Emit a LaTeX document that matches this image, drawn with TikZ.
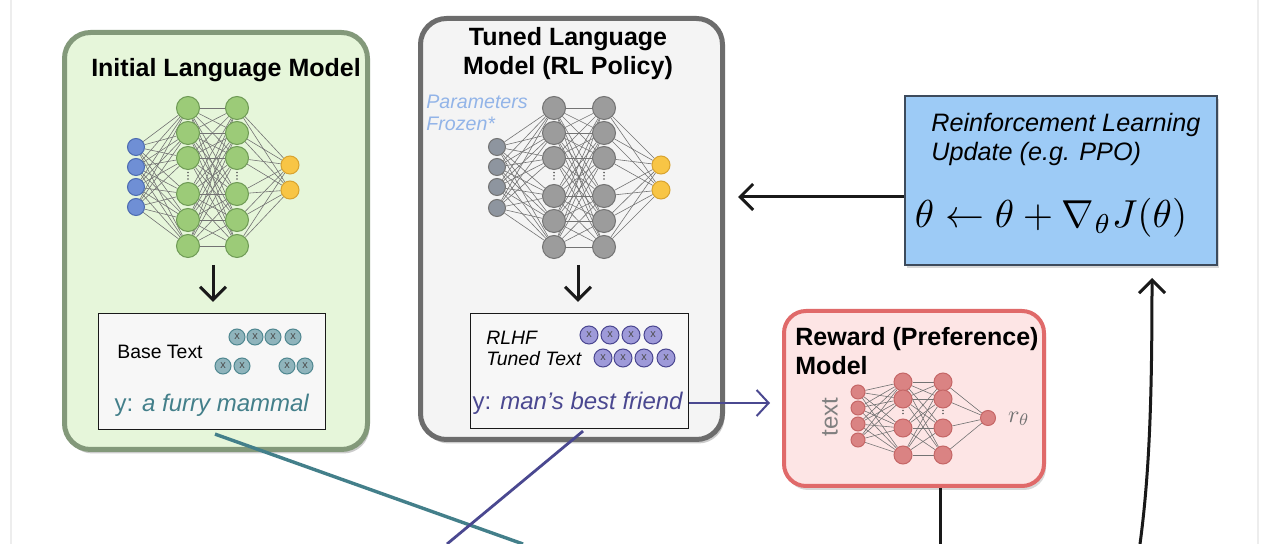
\documentclass[tikz,border=0pt]{standalone}
\usepackage[no-math]{fontspec}
\setmainfont{Liberation Sans}
\usepackage{xcolor}
\usetikzlibrary{arrows.meta,positioning,shadows}

\definecolor{initfill}{HTML}{E6F6DA}
\definecolor{initline}{HTML}{83997A}
\definecolor{tunedfill}{HTML}{F4F4F4}
\definecolor{tunedline}{HTML}{6C6C6C}
\definecolor{rewfill}{HTML}{FDE5E5}
\definecolor{rewline}{HTML}{E06A6A}
\definecolor{updfill}{HTML}{9DCBF6}
\definecolor{updline}{HTML}{3D4B5C}
\definecolor{nodegreen}{HTML}{9CCB78}
\definecolor{nodegreenline}{HTML}{6E9A55}
\definecolor{nodeblue}{HTML}{6F8FD5}
\definecolor{nodeblueline}{HTML}{4C6BB0}
\definecolor{nodeyellow}{HTML}{F8C545}
\definecolor{nodeyellowline}{HTML}{D8A330}
\definecolor{nodegray}{HTML}{9C9C9C}
\definecolor{nodegrayline}{HTML}{737373}
\definecolor{nodegrayin}{HTML}{8E959F}
\definecolor{nodered}{HTML}{DA8383}
\definecolor{noderedline}{HTML}{C56666}
\definecolor{tealtxt}{HTML}{437F8A}
\definecolor{tealtok}{HTML}{8FB4BC}
\definecolor{tealtokline}{HTML}{4F8790}
\definecolor{purptxt}{HTML}{4A4890}
\definecolor{purptok}{HTML}{9E9AD9}
\definecolor{purptokline}{HTML}{4A4690}
\definecolor{frozen}{HTML}{92B4E8}

\pgfdeclarelayer{boxes}
\pgfdeclarelayer{wires}
\pgfsetlayers{boxes,wires,main}

\begin{document}
\begin{tikzpicture}[
    x=0.5pt, y=-0.5pt,
    lmbox/.style={rectangle, rounded corners=13pt, line width=2.5pt, drop shadow={shadow xshift=1pt, shadow yshift=-2pt, opacity=0.4}},
    initbox/.style={lmbox, draw=initline, fill=initfill, minimum width=151.5pt, minimum height=208.5pt},
    tunedbox/.style={lmbox, draw=tunedline, fill=tunedfill, minimum width=151pt, minimum height=210.5pt},
    rewardbox/.style={rectangle, rounded corners=11pt, line width=2pt, draw=rewline, fill=rewfill, minimum width=130pt, minimum height=87.5pt, drop shadow={shadow xshift=1pt, shadow yshift=-2pt, opacity=0.3}},
    updatebox/.style={rectangle, line width=1pt, draw=updline, fill=updfill, minimum width=156pt, minimum height=84.5pt, drop shadow={shadow xshift=1pt, shadow yshift=-1.5pt, opacity=0.3}},
    textbox/.style={rectangle, line width=0.6pt, draw=black!90, fill=black!3},
    title/.style={font=\fontsize{12.5}{14.5}\selectfont\bfseries, align=center, inner sep=0pt},
    neuron/.style={circle, inner sep=0pt, line width=0.5pt},
    hidgreen/.style={neuron, fill=nodegreen, draw=nodegreenline, minimum size=11.5pt},
    inblue/.style={neuron, fill=nodeblue, draw=nodeblueline, minimum size=8.5pt},
    outyellow/.style={neuron, fill=nodeyellow, draw=nodeyellowline, minimum size=9pt},
    hidgray/.style={neuron, fill=nodegray, draw=nodegrayline, minimum size=11.5pt},
    ingray/.style={neuron, fill=nodegrayin, draw=nodegrayline, minimum size=8.5pt},
    hidred/.style={neuron, fill=nodered, draw=noderedline, minimum size=9pt},
    inred/.style={neuron, fill=nodered, draw=noderedline, minimum size=7pt},
    wire/.style={draw=black!55, line width=0.3pt},
    skipdots/.style={draw=black!65, line width=0.9pt, line cap=round, dash pattern=on 0pt off 1.6pt, shorten <=1.3pt, shorten >=1.3pt},
    token/.style={circle, inner sep=0pt, line width=0.5pt, font=\fontsize{5.5}{5.5}\selectfont, text=black!70},
    tealtoken/.style={token, fill=tealtok, draw=tealtokline, minimum size=8pt},
    purptoken/.style={token, fill=purptok, draw=purptokline, minimum size=9pt},
    arrow/.style={-{Straight Barb[length=6.5pt, width=13pt]}, line width=1.5pt, black!90}
]
\useasboundingbox (0,0) rectangle (1280,544);

% Boxes
\begin{pgfonlayer}{boxes}
\fill[white] (0,0) rectangle (1280,544);
\draw[black!7, line width=0.8pt] (11,0) -- (11,544);
\draw[black!7, line width=0.8pt] (1258,0) -- (1258,544);
\node[initbox] (init) at (216,241) {};
\node[tunedbox] (tuned) at (571.5,229) {};
\node[rewardbox] (reward) at (914,398.5) {};
\node[updatebox] (upd) at (1061,180.5) {};
\node[textbox, minimum width=113.5pt, minimum height=58pt] (tb1) at (212,371.5) {};
\node[textbox, minimum width=109pt, minimum height=57.5pt] (tb2) at (579.5,371) {};
\end{pgfonlayer}

% Titles
\node[title] (inittitle) at (226,70) {Initial Language Model};
\node[title] (tunedtitle) at (568,54) {Tuned Language\\Model (RL Policy)};
\node[title, align=left, anchor=west] (rewtitle) at (795,351.5) {Reward (Preference)\\Model};
\node[align=left, anchor=west, inner sep=0pt, font=\fontsize{12.6}{14.5}\selectfont\itshape] (updtitle) at (931,139.5) {Reinforcement Learning\\Update (e.g. PPO)};
\node[inner sep=0pt, scale=1.95] (formula) at (1051,218) {$\theta \leftarrow \theta + \nabla_\theta J(\theta)$};
\node[align=left, anchor=west, inner sep=0pt, text=frozen, font=\fontsize{9.8}{11}\selectfont\itshape] (frozen) at (426,113) {Parameters\\Frozen*};

% Initial network
\foreach \y [count=\i] in {147,167,187,207} \node[inblue] (ia\i) at (136,\y) {};
\foreach \y [count=\i] in {108,133,158,194,220,246} {
    \node[hidgreen] (ha\i) at (188,\y) {};
    \node[hidgreen] (ka\i) at (237,\y) {};
}
\foreach \y [count=\i] in {165,190} \node[outyellow] (oa\i) at (290,\y) {};

% Tuned network
\foreach \y [count=\i] in {147,167,187,208} \node[ingray] (ib\i) at (497,\y) {};
\foreach \y [count=\i] in {108,133,158,196,221,247} {
    \node[hidgray] (hb\i) at (554,\y) {};
    \node[hidgray] (kb\i) at (604,\y) {};
}
\foreach \y [count=\i] in {165,190} \node[outyellow] (ob\i) at (661,\y) {};

% Reward network
\foreach \y [count=\i] in {392,408,424,440} \node[inred] (ic\i) at (858,\y) {};
\foreach \y [count=\i] in {382,399,428,455} {
    \node[hidred] (hc\i) at (903,\y) {};
    \node[hidred] (kc\i) at (943,\y) {};
}
\node[inred, minimum size=7.5pt] (oc) at (988,418) {};
\node[rotate=90, inner sep=0pt, text=black!50, font=\fontsize{12}{12}\selectfont] (txtin) at (830,417) {text};
\node[inner sep=0pt, text=black!55, scale=1.2] (rth) at (1019,419) {$r_\theta$};

% Wires
\begin{pgfonlayer}{wires}
\foreach \i in {1,...,4} \foreach \j in {1,...,6} {
    \draw[wire] (ia\i) -- (ha\j);
    \draw[wire] (ib\i) -- (hb\j);
}
\foreach \i in {1,...,6} \foreach \j in {1,...,6} {
    \draw[wire] (ha\i) -- (ka\j);
    \draw[wire] (hb\i) -- (kb\j);
}
\foreach \i in {1,...,6} \foreach \j in {1,2} {
    \draw[wire] (ka\i) -- (oa\j);
    \draw[wire] (kb\i) -- (ob\j);
}
\foreach \i in {1,...,4} \foreach \j in {1,...,4} {
    \draw[wire] (ic\i) -- (hc\j);
    \draw[wire] (hc\i) -- (kc\j);
}
\foreach \i in {1,...,4} \draw[wire] (kc\i) -- (oc);
\end{pgfonlayer}

% Skipped neurons
\draw[skipdots] (ha3) -- (ha4);
\draw[skipdots] (ka3) -- (ka4);
\draw[skipdots] (hb3) -- (hb4);
\draw[skipdots] (kb3) -- (kb4);
\draw[skipdots, line width=0.8pt, dash pattern=on 0pt off 1.5pt, shorten <=1pt, shorten >=1pt] (hc2) -- (hc3);
\draw[skipdots, line width=0.8pt, dash pattern=on 0pt off 1.5pt, shorten <=1pt, shorten >=1pt] (kc2) -- (kc3);

% Text boxes
\node[font=\fontsize{9.7}{11}\selectfont, inner sep=0pt] (basetxt) at (160,352) {Base Text};
\foreach \x [count=\i] in {237,255,273,293} \node[tealtoken] (ta\i) at (\x,337) {x};
\foreach \x [count=\i] in {223,242,287,305} \node[tealtoken] (tc\i) at (\x,366) {x};
\node[text=tealtxt, inner sep=0pt, font=\fontsize{12}{14}\selectfont] (ya) at (212,405) {y: \textit{a furry mammal}};

\node[align=left, anchor=west, inner sep=0pt, font=\fontsize{9.7}{10.5}\selectfont\itshape] (rlhftxt) at (486,348) {RLHF\\Tuned Text};
\foreach \x [count=\i] in {589,610,631,653} \node[purptoken] (pa\i) at (\x,335) {x};
\foreach \x [count=\i] in {603,623,644,666} \node[purptoken] (pc\i) at (\x,358) {x};
\node[text=purptxt, inner sep=0pt, font=\fontsize{12}{14}\selectfont] (yb) at (578,403) {y: \textit{man’s best friend}};

% Arrows
\coordinate (dna) at (213,265);
\coordinate (dnb) at (578,265);
\draw[arrow, shorten >=5.5pt] (dna) -- (dna |- tb1.north);
\draw[arrow, shorten >=5.5pt] (dnb) -- (dnb |- tb2.north);
\draw[arrow, shorten >=6.5pt] ([yshift=-8.25pt]upd.west) -- ([yshift=-8.25pt]upd.west -| tuned.east);
\draw[-{Straight Barb[length=6pt, width=13pt]}, line width=1pt, purptxt, shorten >=6pt] ([yshift=-16pt]tb2.east) -- ([yshift=-16pt]tb2.east -| reward.west);

% Outgoing lines
\coordinate (rewout) at (940,544);
\coordinate (updin) at (1140,544);
\coordinate (tealend) at (523,544);
\coordinate (purpend) at (447,544);
\draw[line width=1.5pt, black!90] ([xshift=13pt]reward.south) -- (rewout);
\draw[arrow, shorten >=6pt] (updin) .. controls (1150,470) and (1152,390) .. ([xshift=45.5pt]upd.south);
\draw[line width=1.7pt, tealtxt] ([xshift=1.5pt, yshift=-2pt]tb1.south) -- (tealend);
\draw[line width=1.4pt, purptxt] ([xshift=1.75pt, yshift=-1pt]tb2.south) -- (purpend);
\end{tikzpicture}
\end{document}
